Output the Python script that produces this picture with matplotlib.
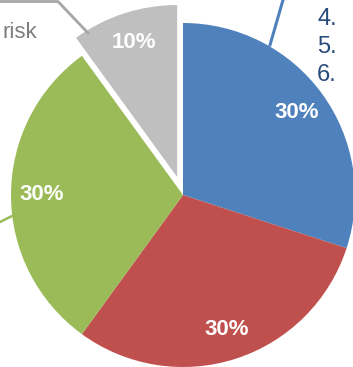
import matplotlib
matplotlib.use("Agg")
import matplotlib.pyplot as plt

# slice values, clockwise from 12 o'clock
shares = [30, 30, 30, 10]
colors = ["#4F81BD", "#C0504D", "#9BBB59", "#BFBFBF"]
explode = [0, 0, 0, 0.11]
list_items = ["4.", "5.", "6."]
cut_label = "risk"

W, H = 353, 367
CX, CY, R = 183, 195, 172  # pie centre and radius in pixels


def fx(px):
    return px / W


def fy(py):
    return 1 - py / H


fig = plt.figure(figsize=(W / 100, H / 100), dpi=100)
ax = fig.add_axes([0, 0, 1, 1])

wedges, texts, autotexts = ax.pie(
    shares, colors=colors, explode=explode, startangle=90, counterclock=False,
    autopct="%d%%", pctdistance=0.82,
    textprops=dict(color="white", fontsize=16, fontweight="bold",
                   family="Liberation Sans"),
)
ax.set_xlim(-CX / R, (W - CX) / R)
ax.set_ylim(-(H - CY) / R, CY / R)
ax.set_aspect("equal")
ax.axis("off")

# leader lines of the cut-off data labels
fig.add_artist(plt.Line2D([fx(0), fx(58), fx(88)], [fy(1.5), fy(1.5), fy(33)],
                          color="#A6A6A6", linewidth=2))
fig.add_artist(plt.Line2D([fx(283), fx(270)], [fy(0), fy(45)],
                          color="#4F81BD", linewidth=2.2))
fig.add_artist(plt.Line2D([fx(0), fx(12)], [fy(222), fy(216)],
                          color="#9BBB59", linewidth=1.8))

fig.text(fx(3), fy(38), cut_label, color="#7F7F7F", fontsize=16,
         family="Liberation Sans", ha="left", va="baseline")
for i, item in enumerate(list_items):
    fig.text(fx(317), fy(25 + 28 * i), item, color="#264A7A", fontsize=17,
             family="Liberation Sans", ha="left", va="baseline")

fig.savefig("out.png", dpi=100)
